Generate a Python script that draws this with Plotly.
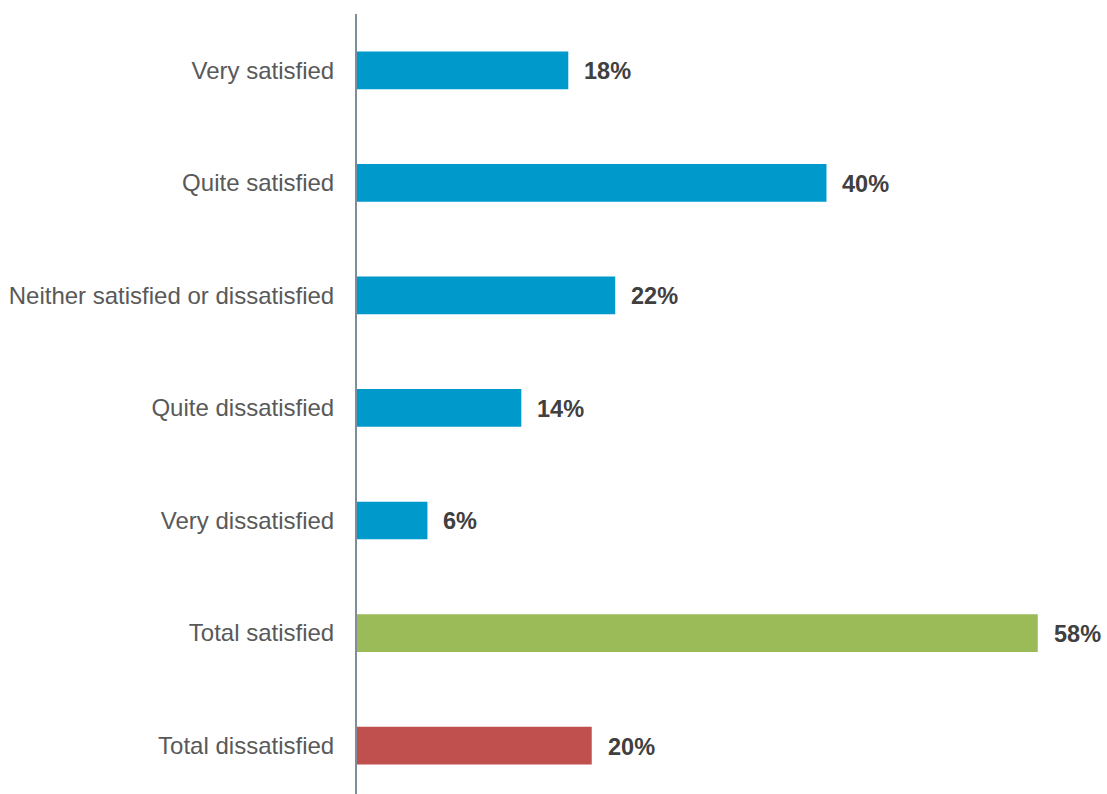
import plotly.graph_objects as go

# Satisfaction survey results (percent of respondents)
categories = [
    "Very satisfied",
    "Quite satisfied",
    "Neither satisfied or dissatisfied",
    "Quite dissatisfied",
    "Very dissatisfied",
    "Total satisfied",
    "Total dissatisfied",
]
values = [18, 40, 22, 14, 6, 58, 20]
bar_colors = ["#0099CC", "#0099CC", "#0099CC", "#0099CC", "#0099CC", "#9BBB59", "#C0504D"]

FONT = "Arial, 'Liberation Sans', sans-serif"

fig = go.Figure(
    go.Bar(
        x=values,
        y=categories,
        orientation="h",
        marker=dict(color=bar_colors, line=dict(width=0)),
        width=0.335,
        hoverinfo="skip",
    )
)

# value labels to the right of each bar
for cat, val in zip(categories, values):
    fig.add_annotation(
        x=val, y=cat, text=f"<b>{val}%</b>",
        xanchor="left", yanchor="middle", xshift=14, yshift=-1, showarrow=False,
        font=dict(family=FONT, size=23.5, color="#404040"),
    )

fig.update_layout(
    width=1107, height=794,
    margin=dict(l=357, r=0, t=14, b=0),
    paper_bgcolor="white", plot_bgcolor="white",
    showlegend=False,
    font=dict(family=FONT, size=24, color="#595959"),
)
fig.update_xaxes(range=[0, 63.9], visible=False, fixedrange=True)
fig.update_yaxes(
    type="category",
    categoryorder="array", categoryarray=categories,
    range=[6.43, -0.5],
    showline=True, linecolor="#7F8C9B", linewidth=2,
    showgrid=False, zeroline=False, ticks="",
    ticklabelstandoff=16,
    tickfont=dict(family=FONT, size=24, color="#595959"),
    fixedrange=True,
)

fig.write_html("out.html")
